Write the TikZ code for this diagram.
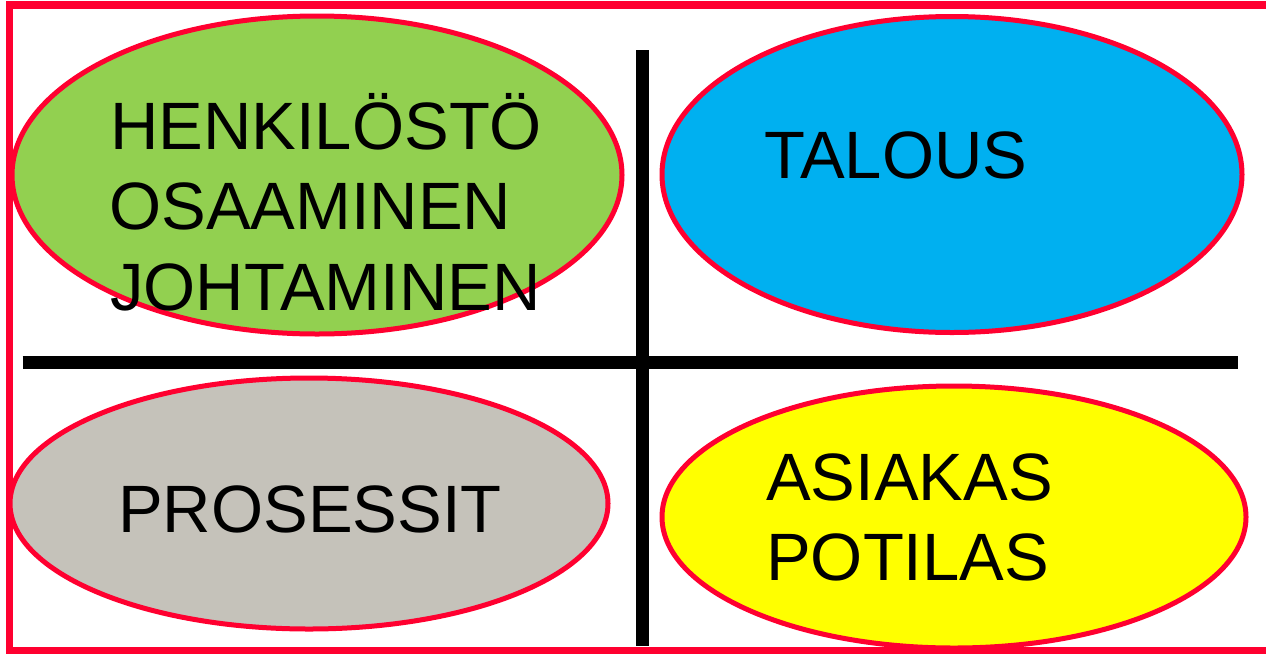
\documentclass[tikz,border=0pt]{standalone}
\usepackage{fontspec}
\setmainfont{Liberation Sans}
\definecolor{frame}{HTML}{FF0030}
\definecolor{cgreen}{HTML}{92D050}
\definecolor{cblue}{HTML}{00B0F0}
\definecolor{cgray}{HTML}{C5C2BA}
\definecolor{cyellow}{HTML}{FFFF00}
\tikzset{
  blob/.style={draw=frame, line width=5pt},
  bar/.style={line width=13pt, black},
  lbl/.style={anchor=base west, inner sep=0pt, font=\fontsize{67}{80}\selectfont, text=black},
}
\begin{document}
\begin{tikzpicture}[x=1pt,y=-1pt]
\useasboundingbox (0,0) rectangle (1266,654);
\fill[white] (0,0) rectangle (1266,654);
% frame
\draw[frame, line width=7.5pt] (1275,5) -- (9.5,5) -- (9.5,650.5) -- (1275,650.5);
% cross lines
\coordinate (vt) at (642,50);
\coordinate (vb) at (642,646);
\coordinate (hl) at (22.5,362);
\coordinate (hr) at (1238,362);
\draw[bar] (vt) -- (vb);
\draw[bar] (hl) -- (hr);
% ellipses
\fill[cgreen] (317,175) ellipse [x radius=305, y radius=159];
\draw[blob] (317,175) ellipse [x radius=305, y radius=159];
\fill[cblue] (952,174.5) ellipse [x radius=290, y radius=158];
\draw[blob] (952,174.5) ellipse [x radius=290, y radius=158];
\fill[cgray] (309,503.5) ellipse [x radius=299, y radius=125.5];
\draw[blob] (309,503.5) ellipse [x radius=299, y radius=125.5];
\fill[cyellow] (954,517) ellipse [x radius=292, y radius=131];
\draw[blob] (954,517) ellipse [x radius=292, y radius=131];
% labels
\node[lbl] (h1) at (110,149) {HENKILÖSTÖ};
\node[lbl] (h2) at (109,229) {OSAAMINEN};
\node[lbl] (h3) at (110,310) {JOHTAMINEN};
\node[lbl] (ta) at (764,178) {TALOUS};
\node[lbl] (pr) at (118,532) {PROSESSIT};
\node[lbl] (as) at (766,500) {ASIAKAS};
\node[lbl] (po) at (766,580) {POTILAS};
\end{tikzpicture}
\end{document}
